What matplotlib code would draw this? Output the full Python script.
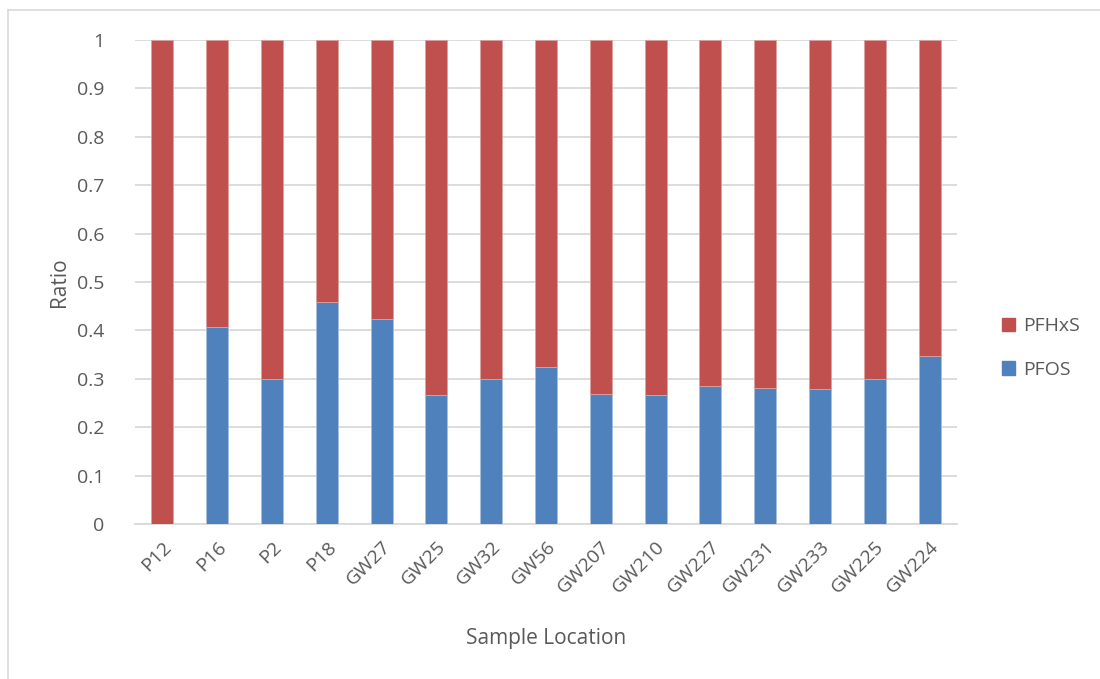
import matplotlib
matplotlib.use("Agg")
import matplotlib.pyplot as plt
from matplotlib.patches import Patch

locations = ["P12", "P16", "P2", "P18", "GW27", "GW25", "GW32", "GW56",
             "GW207", "GW210", "GW227", "GW231", "GW233", "GW225", "GW224"]
pfos = [0.0, 0.407, 0.300, 0.459, 0.424, 0.267, 0.300, 0.325,
        0.268, 0.267, 0.286, 0.281, 0.279, 0.300, 0.348]
pfhxs = [1 - v for v in pfos]
yticks = [0, 0.1, 0.2, 0.3, 0.4, 0.5, 0.6, 0.7, 0.8, 0.9, 1]
ytick_labels = ["0", "0.1", "0.2", "0.3", "0.4", "0.5", "0.6", "0.7", "0.8", "0.9", "1"]

blue = "#4F81BD"
red = "#C0504D"
text_grey = "#595959"
grid_grey = "#D9D9D9"

plt.rcParams["font.family"] = ["Open Sans", "DejaVu Sans"]

W, H = 1100, 679
fig = plt.figure(figsize=(W / 100, H / 100), dpi=100)

# chart-area frame (top and left edges visible)
fig.add_artist(plt.Line2D([8 / W, 8 / W], [0, 1 - 10 / H], transform=fig.transFigure,
                          color="#D9D9D9", lw=1.2))
fig.add_artist(plt.Line2D([8 / W, 1], [1 - 10 / H, 1 - 10 / H], transform=fig.transFigure,
                          color="#D9D9D9", lw=1.2))

left, right, top, bottom = 135, 957, 40, 524
ax = fig.add_axes([left / W, 1 - bottom / H, (right - left) / W, (bottom - top) / H])

x = range(len(locations))
ax.bar(x, pfos, width=0.4, color=blue, edgecolor="#A7BFDE", linewidth=0.6, zorder=3)
ax.bar(x, pfhxs, bottom=pfos, width=0.4, color=red, edgecolor="#DDA0A0", linewidth=0.6, zorder=3)

ax.set_xlim(-0.5, len(locations) - 0.5)
ax.set_ylim(0, 1)
ax.set_yticks(yticks)
ax.set_yticklabels(ytick_labels)
ax.set_xticks(list(x))
ax.set_xticklabels(locations, rotation=45, ha="right", rotation_mode="anchor")

ax.grid(axis="y", color=grid_grey, linewidth=1.3, zorder=0)
ax.set_axisbelow(True)
for side in ["top", "right", "left"]:
    ax.spines[side].set_visible(False)
ax.spines["bottom"].set_color(grid_grey)
ax.spines["bottom"].set_linewidth(1.3)
ax.tick_params(axis="both", length=0, labelsize=14, colors=text_grey)
ax.tick_params(axis="y", pad=22)
ax.tick_params(axis="x", pad=10)

ax.set_ylabel("Ratio", fontsize=15, color=text_grey, labelpad=5)
ax.set_xlabel("Sample Location", fontsize=15, color=text_grey, labelpad=22)

handles = [Patch(facecolor=red, edgecolor=red), Patch(facecolor=blue, edgecolor=blue)]
fig.legend(handles, ["PFHxS", "PFOS"], loc="center left",
           bbox_to_anchor=(984 / W, 1 - 348 / H), frameon=False,
           fontsize=14, labelcolor=text_grey, handlelength=0.7, handleheight=0.7,
           handletextpad=0.4, labelspacing=1.3)

fig.savefig("out.png", dpi=100, facecolor="white")
